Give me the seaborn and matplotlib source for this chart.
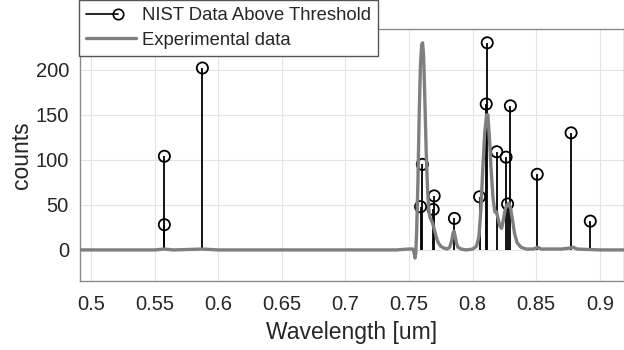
import numpy as np
import pandas as pd
import matplotlib
matplotlib.use("Agg")
import matplotlib.pyplot as plt
from matplotlib.lines import Line2D
from matplotlib.legend_handler import HandlerLine2D
import seaborn as sns

sns.set_theme(style="whitegrid")
plt.rcParams['font.family'] = ['Liberation Sans', 'DejaVu Sans']

# NIST lines above threshold (wavelength in um, counts)
nist_wl = [0.5577, 0.5577, 0.5876, 0.7591, 0.7605, 0.7690, 0.7698, 0.7857,
           0.8055, 0.8107, 0.8115, 0.8190, 0.8263, 0.8275, 0.8297, 0.8508,
           0.8774, 0.8925]
nist_counts = [28, 104, 202, 48, 95, 45, 60, 35,
               59, 162, 230, 109, 103, 51, 160, 84,
               130, 32]

# experimental spectrum
exp_wl = [0.490, 0.520, 0.550, 0.5577, 0.565, 0.5876, 0.600, 0.650, 0.700, 0.740,
          0.750, 0.7530, 0.7540, 0.7547, 0.7553, 0.7560, 0.7570, 0.7580, 0.7590,
          0.7600, 0.7607, 0.7615, 0.7625, 0.7635, 0.7645, 0.7655, 0.7665, 0.7675,
          0.7685, 0.7700, 0.7715, 0.7730, 0.7750, 0.7775, 0.7800, 0.7820, 0.7835,
          0.7845, 0.7853, 0.7862, 0.7872, 0.7885, 0.7910, 0.7950, 0.8000, 0.8030,
          0.8050, 0.8065, 0.8080, 0.8095, 0.8110, 0.8120, 0.8132, 0.8145, 0.8160,
          0.8175, 0.8188, 0.8200, 0.8215, 0.8228, 0.8240, 0.8255, 0.8270, 0.8285,
          0.8300, 0.8315, 0.8330, 0.8350, 0.8380, 0.8420, 0.8480, 0.8510, 0.8540,
          0.8700, 0.8760, 0.8790, 0.8820, 0.9000, 0.9200]
exp_counts = [0, 0, 0, 1, 0, 1, 0, 0, 0, 0,
              1, 1, -3, -9, -4, 20, 75, 150, 205,
              228, 230, 215, 165, 110, 70, 45, 36, 33,
              30, 22, 14, 8, 4, 2, 1, 3, 10,
              18, 21, 16, 8, 3, 1, 0, 1, 4,
              15, 45, 90, 130, 150, 150, 125, 90, 58,
              42, 42, 35, 26, 24, 32, 44, 50, 52,
              45, 32, 18, 8, 3, 1, 1, 3, 1,
              1, 2, 3, 1, 0, 0]

xticks = [0.5, 0.55, 0.6, 0.65, 0.7, 0.75, 0.8, 0.85, 0.9]
xtick_labels = ['0.5', '0.55', '0.6', '0.65', '0.7', '0.75', '0.8', '0.85', '0.9']
yticks = [0, 50, 100, 150, 200]

exp_df = pd.DataFrame({'wl': exp_wl, 'counts': exp_counts})
nist_df = pd.DataFrame({'wl': nist_wl, 'counts': nist_counts})

fig = plt.figure(figsize=(6.24, 3.5), dpi=100)
ax = fig.add_axes([80 / 624, 1 - 281 / 350, 544 / 624, 251.7 / 350])

text_col = '#262626'
spine_col = '#8a8a8a'

ax.vlines(nist_df['wl'], 0, nist_df['counts'], color='black', linewidth=1.3, zorder=2)
sns.scatterplot(data=nist_df, x='wl', y='counts', ax=ax, marker='o', s=65,
                facecolor='none', edgecolor='black', linewidth=1.3, zorder=3,
                legend=False)
sns.lineplot(data=exp_df, x='wl', y='counts', ax=ax, color='#7f7f7f',
             linewidth=2.4, zorder=4, legend=False, sort=False)

ax.set_xlim(0.4914, 0.9190)
ax.set_ylim(-34.5, 245)
ax.set_xticks(xticks)
ax.set_xticklabels(xtick_labels)
ax.set_yticks(yticks)
ax.tick_params(axis='both', direction='in', length=3, color=spine_col,
               labelsize=14.5, labelcolor=text_col)
ax.tick_params(axis='x', pad=10)
ax.tick_params(axis='y', pad=8)
ax.set_xlabel('Wavelength [um]', fontsize=16.5, color=text_col, labelpad=5)
ax.set_ylabel('counts', fontsize=16.5, color=text_col, labelpad=2)
ax.grid(True, color='#e4e4e4', linewidth=0.8)
ax.set_facecolor('white')
for side in ['left', 'bottom', 'top', 'right']:
    ax.spines[side].set_visible(True)
    ax.spines[side].set_color(spine_col)
    ax.spines[side].set_linewidth(1.0)


def stem_handle(h, orig):
    h.update_from(orig)
    x = h.get_xdata()
    y = h.get_ydata()
    end = x[0] + 0.64 * (x[-1] - x[0])
    h.set_data([x[0], end], [y[0], y[0]])
    h.set_markevery([1])


nist_h = Line2D([], [], color='black', linewidth=1.2, marker='o', markersize=7.5,
                markerfacecolor='none', markeredgecolor='black', markeredgewidth=1.2)
exp_h = Line2D([], [], color='#7f7f7f', linewidth=2.4)
leg = ax.legend([nist_h, exp_h], ['NIST Data Above Threshold', 'Experimental data'],
                loc='upper left', bbox_to_anchor=(79 / 624, 1.0),
                bbox_transform=fig.transFigure, borderaxespad=0, fontsize=13.3,
                frameon=True, fancybox=False, framealpha=1, edgecolor='#555555',
                borderpad=0.4, labelspacing=0.4, handlelength=2.7,
                handletextpad=0.3, handler_map={nist_h: HandlerLine2D(update_func=stem_handle)})
leg.get_frame().set_linewidth(1.0)
for t in leg.get_texts():
    t.set_color(text_col)

fig.savefig('out.png', dpi=100)
